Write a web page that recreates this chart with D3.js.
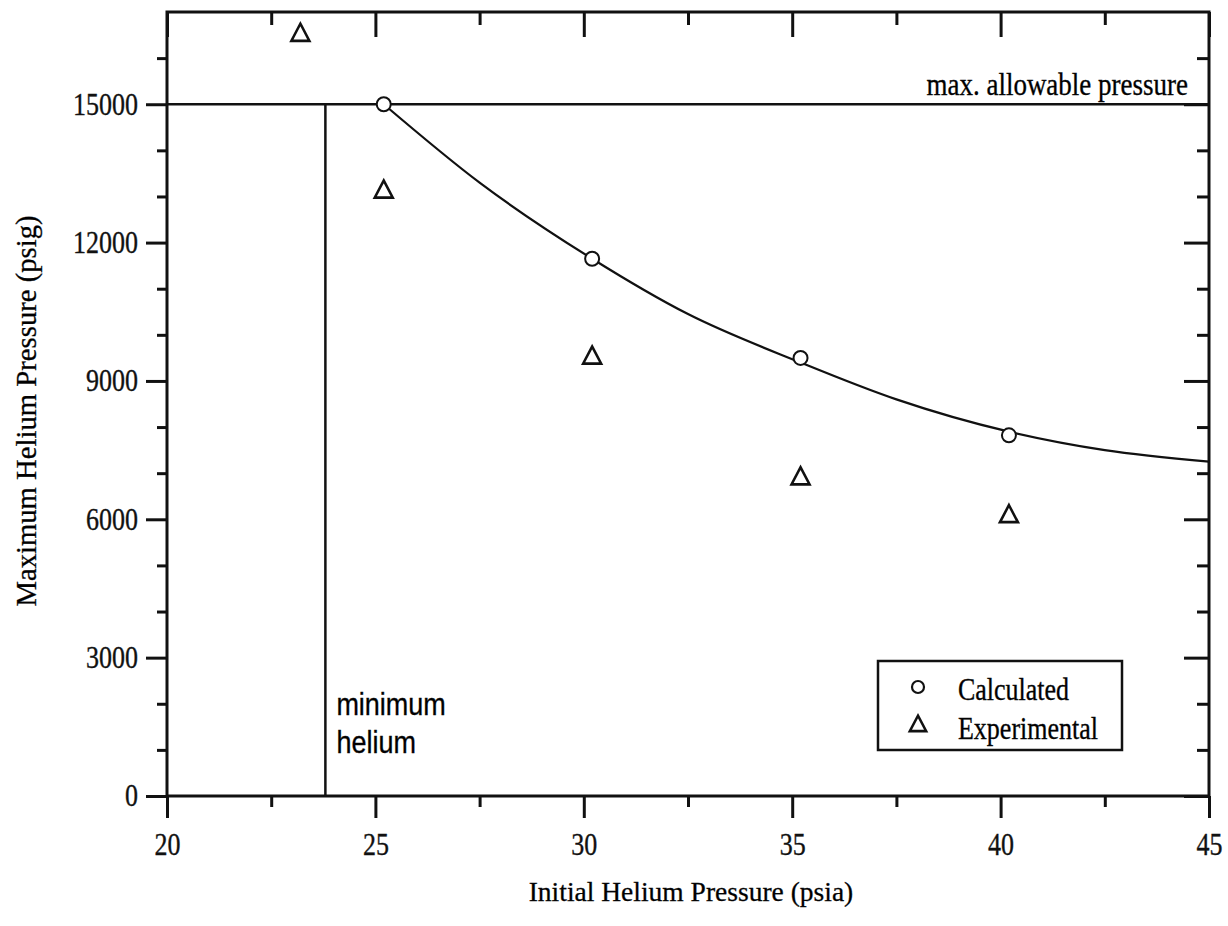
<!DOCTYPE html>
<html lang="en">
<head>
    <meta charset="UTF-8">
    <title>Maximum Helium Pressure</title>
    <style>
        body { margin: 0; background: #fff; }
        .axis path, .axis line { stroke: #111; }
        .axis text { font-family: "Liberation Serif", serif; font-size: 26px; fill: #111; }
        text { stroke: #111; stroke-width: 0.3px; }
    </style>
    <script src="https://d3js.org/d3.v7.min.js"></script>
</head>
<body>
    <script>
        // data
        const calcX = [25.2, 30.2, 35.2, 40.2];
        const calcY = [15000, 11650, 9500, 7820];
        const expX = [23.2, 25.2, 30.2, 35.2, 40.2];
        const expY = [16500, 13100, 9500, 6880, 6060];
        // fitted curve through the calculated points
        const curveX = [25.2, 27.5, 30.2, 32.5, 35.2, 37.5, 40.2, 42.5, 45];
        const curveY = [15000, 13300, 11650, 10450, 9400, 8600, 7900, 7500, 7250];
        const maxAllowable = 15000;
        const minHelium = 23.8;
        const xMajor = [20, 25, 30, 35, 40, 45];
        const xMinor = [22.5, 27.5, 32.5, 37.5, 42.5];
        const yMajor = [0, 3000, 6000, 9000, 12000, 15000];
        const yMinor = [1000, 2000, 4000, 5000, 7000, 8000, 10000, 11000, 13000, 14000, 16000];
        const legendNames = ["Calculated", "Experimental"];

        const width = 1228, height = 926;
        const k = 1.18; // the scanned original is a bit taller than wide
        const x = d3.scaleLinear().domain([20, 45]).range([167, 1209]);
        const y = d3.scaleLinear().domain([0, 17000]).range([796, 12]);

        const svg = d3.select("body").append("svg")
            .attr("width", width)
            .attr("height", height);

        // minor ticks first (no labels)
        svg.append("g").attr("class", "axis")
            .attr("transform", `translate(0,${y(0)})`)
            .call(d3.axisBottom(x).tickValues(xMinor).tickSize(11).tickFormat(""))
            .call(g => g.select(".domain").remove());
        svg.append("g").attr("class", "axis")
            .attr("transform", `translate(0,${y(17000)})`)
            .call(d3.axisTop(x).tickValues(xMinor).tickSize(-13).tickFormat(""))
            .call(g => g.select(".domain").remove());
        svg.append("g").attr("class", "axis")
            .attr("transform", `translate(${x(20)},0)`)
            .call(d3.axisLeft(y).tickValues(yMinor).tickSize(10).tickFormat(""))
            .call(g => g.select(".domain").remove());
        svg.append("g").attr("class", "axis")
            .attr("transform", `translate(${x(45)},0)`)
            .call(d3.axisRight(y).tickValues(yMinor).tickSize(-12).tickFormat(""))
            .call(g => g.select(".domain").remove());

        // major ticks
        svg.append("g").attr("class", "axis")
            .attr("transform", `translate(0,${y(0)})`)
            .call(d3.axisBottom(x).tickValues(xMajor).tickSize(22).tickSizeOuter(0))
            .call(g => g.select(".domain").remove())
            .call(g => g.selectAll("text")
                .attr("y", 59 / k).attr("dy", null)
                .attr("transform", `scale(1,${k})`));
        svg.append("g").attr("class", "axis")
            .attr("transform", `translate(0,${y(17000)})`)
            .call(d3.axisTop(x).tickValues(xMajor).tickSize(-25).tickFormat(""))
            .call(g => g.select(".domain").remove());
        svg.append("g").attr("class", "axis")
            .attr("transform", `translate(${x(20)},0)`)
            .call(d3.axisLeft(y).tickValues(yMajor).tickSize(21).tickPadding(8).tickFormat(d3.format("d")))
            .call(g => g.select(".domain").remove())
            .call(g => g.selectAll("text").attr("transform", `scale(1,${k})`));
        svg.append("g").attr("class", "axis")
            .attr("transform", `translate(${x(45)},0)`)
            .call(d3.axisRight(y).tickValues(yMajor).tickSize(-25).tickFormat(""))
            .call(g => g.select(".domain").remove());

        svg.selectAll(".axis line").attr("stroke-width", 3);

        // frame
        svg.append("rect")
            .attr("x", x(20)).attr("y", y(17000))
            .attr("width", x(45) - x(20)).attr("height", y(0) - y(17000))
            .attr("fill", "none").attr("stroke", "#111").attr("stroke-width", 3);

        // limit lines
        svg.append("line")
            .attr("x1", x(20)).attr("x2", x(45))
            .attr("y1", y(maxAllowable)).attr("y2", y(maxAllowable))
            .attr("stroke", "#111").attr("stroke-width", 2.5);
        svg.append("line")
            .attr("x1", x(minHelium)).attr("x2", x(minHelium))
            .attr("y1", y(maxAllowable)).attr("y2", y(0))
            .attr("stroke", "#111").attr("stroke-width", 2.5);

        svg.append("text")
            .attr("transform", `translate(${x(45) - 21},${y(maxAllowable) - 9}) scale(1,${k})`)
            .attr("text-anchor", "end")
            .style("font-family", "'Liberation Serif', serif").style("font-size", "27px")
            .text("max. allowable pressure");
        svg.selectAll(".minlab").data(["minimum", "helium"]).join("text")
            .attr("class", "minlab")
            .attr("transform", (d, i) => `translate(${x(minHelium) + 11},${715 + i * 38}) scale(1,${k})`)
            .style("font-family", "'Liberation Sans', sans-serif").style("font-size", "27px")
            .text(d => d);

        // curve
        const line = d3.line()
            .x((d, i) => x(curveX[i]))
            .y(d => y(d))
            .curve(d3.curveMonotoneX);
        svg.append("path")
            .attr("d", line(curveY))
            .attr("fill", "none").attr("stroke", "#111").attr("stroke-width", 2.2);

        // markers
        svg.selectAll(".calc").data(calcY).join("circle")
            .attr("class", "calc")
            .attr("cx", (d, i) => x(calcX[i])).attr("cy", d => y(d))
            .attr("r", 7)
            .attr("fill", "#fff").attr("stroke", "#111").attr("stroke-width", 2);

        const tri = d3.symbol().type(d3.symbolTriangle).size(140);
        svg.selectAll(".exp").data(expY).join("path")
            .attr("class", "exp")
            .attr("transform", (d, i) => `translate(${x(expX[i])},${y(d)}) scale(1,1.1)`)
            .attr("d", tri)
            .attr("fill", "none").attr("stroke", "#111").attr("stroke-width", 2.5);

        // legend
        const lg = svg.append("g").attr("transform", "translate(878,661)");
        lg.append("rect").attr("width", 244).attr("height", 89)
            .attr("fill", "#fff").attr("stroke", "#111").attr("stroke-width", 2.5);
        lg.append("circle").attr("cx", 40).attr("cy", 26).attr("r", 6)
            .attr("fill", "none").attr("stroke", "#111").attr("stroke-width", 2.2);
        lg.append("path").attr("transform", "translate(40,65) scale(1,1.1)")
            .attr("d", d3.symbol().type(d3.symbolTriangle).size(115))
            .attr("fill", "none").attr("stroke", "#111").attr("stroke-width", 2.5);
        lg.selectAll("text").data(legendNames).join("text")
            .attr("transform", (d, i) => `translate(80,${39 + i * 39}) scale(1,${k})`)
            .style("font-family", "'Liberation Serif', serif").style("font-size", "26px")
            .text(d => d);

        // axis titles
        svg.append("text")
            .attr("x", 691).attr("y", 901)
            .attr("text-anchor", "middle")
            .style("font-family", "'Liberation Serif', serif").style("font-size", "27.5px")
            .text("Initial Helium Pressure (psia)");
        svg.append("text")
            .attr("transform", "translate(36,411) rotate(-90)")
            .attr("text-anchor", "middle")
            .style("font-family", "'Liberation Serif', serif").style("font-size", "28.7px")
            .text("Maximum Helium Pressure (psig)");
    </script>
</body>
</html>
